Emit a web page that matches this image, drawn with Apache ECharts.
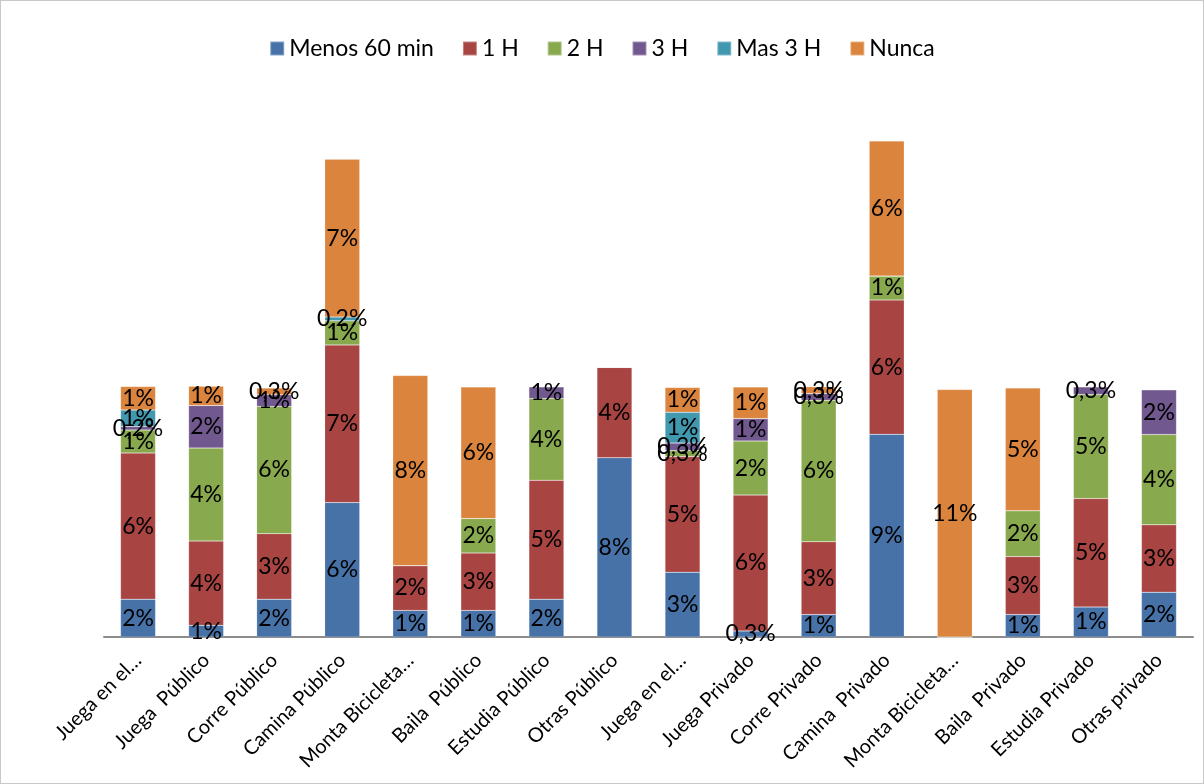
<!DOCTYPE html>
<html>
<head>
<meta charset="utf-8">
<script src="https://cdn.jsdelivr.net/npm/echarts@6/dist/echarts.min.js"></script>
<style>
  html, body { margin: 0; padding: 0; background: #fff; }
  #chart { width: 1204px; height: 784px; box-sizing: border-box; border: 1px solid #c8c8c8; }
</style>
</head>
<body>
<div id="chart"></div>
<script>
// Activity categories (público / privado)
const categories = [
  'Juega en el…', 'Juega  Público', 'Corre Público', 'Camina Público',
  'Monta Bicicleta…', 'Baila  Público', 'Estudia Público', 'Otras Público',
  'Juega en el…', 'Juega Privado', 'Corre Privado', 'Camina  Privado',
  'Monta Bicicleta…', 'Baila  Privado', 'Estudia Privado', 'Otras privado'
];

// Share of answers per time band, in percent
const menos60 = [1.68, 0.52, 1.68, 5.97, 1.18, 1.18, 1.68, 7.96, 2.88, 0.27, 1.00, 9.00, 0, 1.00, 1.33, 1.99];
const unaH    = [6.49, 3.74, 2.91, 7.00, 1.99, 2.55, 5.28, 4.01, 5.13, 6.03, 3.23, 5.97, 0, 2.57, 4.82, 2.99];
const dosH    = [1.02, 4.13, 5.65, 1.07, 0,    1.53, 3.63, 0,    0.27, 2.40, 6.28, 1.06, 0, 2.04, 4.62, 4.01];
const tresH   = [0.16, 1.89, 0.52, 0,    0,    0,    0.52, 0,    0.33, 1.00, 0.30, 0,    0, 0,    0.34, 1.99];
const mas3H   = [0.73, 0,    0,    0.17, 0,    0,    0,    0,    1.37, 0,    0,    0,    0, 0,    0,    0];
const nunca   = [1.04, 0.86, 0.30, 7.00, 8.44, 5.84, 0,    0,    1.10, 1.40, 0.30, 5.99, 10.99, 5.45, 0,   0];

const seriesNames = ['Menos 60 min', '1 H', '2 H', '3 H', 'Mas 3 H', 'Nunca'];
const seriesData = [menos60, unaH, dosH, tresH, mas3H, nunca];
const colors = ['#4672A8', '#A84442', '#88A94D', '#71588F', '#4198AF', '#DB843D'];

const FONT = 'Lato, "Open Sans", "DejaVu Sans", sans-serif';

function fmt(v) {
  if (!v) return '';
  if (v < 0.5) return v.toFixed(1).replace('.', ',') + '%';
  return Math.round(v) + '%';
}

const chart = echarts.init(document.getElementById('chart'));
chart.setOption({
  animation: false,
  color: colors,
  textStyle: { fontFamily: FONT },
  legend: {
    top: 31,
    left: 'center',
    itemWidth: 14,
    itemHeight: 14,
    itemGap: 28,
    icon: 'rect',
    textStyle: { fontSize: 23, color: '#000', fontFamily: FONT },
    data: seriesNames
  },
  grid: { left: 103, right: 10, top: 73, bottom: 146, containLabel: false },
  xAxis: {
    type: 'category',
    data: categories,
    axisLine: { lineStyle: { color: '#8c8c8c', width: 2 } },
    axisTick: { show: false },
    axisLabel: {
      interval: 0,
      rotate: 45,
      margin: 20,
      fontSize: 20,
      color: '#000',
      fontFamily: FONT
    }
  },
  yAxis: {
    type: 'value',
    min: 0,
    max: 25,
    show: false,
    splitLine: { show: false }
  },
  series: seriesData.map((d, i) => ({
    name: seriesNames[i],
    type: 'bar',
    stack: 'total',
    barWidth: 35,
    data: d,
    itemStyle: { borderColor: 'rgba(255,255,255,0.35)', borderWidth: 0.5 },
    label: {
      show: true,
      position: 'inside',
      color: '#000',
      fontSize: 23,
      fontFamily: FONT,
      formatter: p => fmt(p.value)
    }
  }))
});
</script>
</body>
</html>
